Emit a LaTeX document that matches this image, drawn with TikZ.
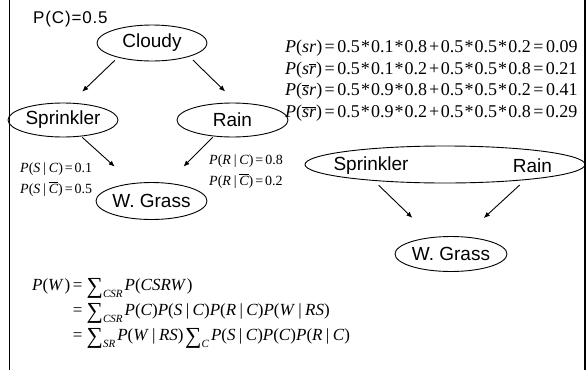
\documentclass[tikz,border=0pt]{standalone}
\usepackage{fontspec}
\setmainfont{Liberation Serif}
\newfontfamily\arialf{Liberation Sans}
\newfontfamily\arialsp[LetterSpace=5]{Liberation Sans}
\usetikzlibrary{shapes.geometric,arrows.meta}
\newcommand\ovl[1]{$\overline{\hbox{\itshape #1}}$}
\newcommand\mi[1]{\textit{#1}}
\newcommand\eqsign{\kern0.14em=\kern0.14em}
\newcommand\pls{\kern0.1em+\kern0.1em}
\newcommand\mul{\kern0.06em*\kern0.06em}
\newcommand\vb{\kern0.2em|\kern0.2em}
\newcommand\sumsub[1]{\kern0.1em\raisebox{-0.2em}{\fontsize{23}{23}\selectfont ∑}\raisebox{-0.45em}{\fontsize{11}{11}\selectfont\itshape #1}\kern0.12em}
\tikzset{
  ell/.style={draw, ellipse, line width=0.9pt, inner sep=0pt, font=\arialf\fontsize{19}{19}\selectfont},
  plain/.style={inner sep=0pt, font=\arialf\fontsize{19}{19}\selectfont},
  conn/.style={-{Latex[length=6pt,width=5pt]}, line width=0.9pt},
  lab/.style={inner sep=0pt, anchor=base west, font=\fontsize{14}{14}\selectfont},
  eq/.style={inner sep=0pt, anchor=base west, font=\fontsize{18}{18}\selectfont},
  peq/.style={inner sep=0pt, anchor=base west, font=\fontsize{17}{17}\selectfont},
  border/.style={line width=1.8pt}
}
\begin{document}
\begin{tikzpicture}[x=1pt,y=-1pt]
\useasboundingbox (0,0) rectangle (587,370);
\draw[border] (9.5,0) -- (9.5,370);
\draw[border, line width=1.5pt] (584.8,0) -- (584.8,370);

\node[inner sep=0pt, anchor=base west, font=\arialsp\fontsize{17}{17}\selectfont] (pc) at (33,23) {P(C)=0.5};

\node[ell, minimum width=110pt, minimum height=36pt] (cloudy) at (152,43) {Cloudy};
\node[ell, minimum width=110pt, minimum height=34pt] (spr) at (63,120) {Sprinkler};
\node[ell, minimum width=111pt, minimum height=34pt] (rain) at (232.5,120) {Rain};
\node[ell, minimum width=111pt, minimum height=37pt] (wg) at (151.5,201) {W. Grass};

\draw[conn, shorten <=4.1pt, shorten >=16pt] (cloudy.203) -- (spr.66);
\draw[conn, shorten <=5pt, shorten >=15.9pt] (cloudy.340) -- (rain.77);
\draw[conn, shorten <=1.4pt, shorten >=24.6pt] (spr.318) -- (wg.136);
\draw[conn, shorten <=1.35pt, shorten >=22.9pt] (rain.221) -- (wg.49);

\node[lab] (lsc) at (20,172) {\mi{P}(\mi{S}\vb\mi{C})\eqsign 0.1};
\node[lab] (lsnc) at (20,193) {\mi{P}(\mi{S}\vb\ovl{C})\eqsign 0.5};
\node[lab] (lrc) at (209,164) {\mi{P}(\mi{R}\vb\mi{C})\eqsign 0.8};
\node[lab] (lrnc) at (209,185) {\mi{P}(\mi{R}\vb\ovl{C})\eqsign 0.2};

\node[eq] (e1) at (285,52) {\mi{P}(\mi{sr})\eqsign 0.5\mul 0.1\mul 0.8\pls 0.5\mul 0.5\mul 0.2\eqsign 0.09};
\node[eq] (e2) at (285,74) {\mi{P}(\mi{s}\ovl{r})\eqsign 0.5\mul 0.1\mul 0.2\pls 0.5\mul 0.5\mul 0.8\eqsign 0.21};
\node[eq] (e3) at (285,95) {\mi{P}(\ovl{s}\mi{r})\eqsign 0.5\mul 0.9\mul 0.8\pls 0.5\mul 0.5\mul 0.2\eqsign 0.41};
\node[eq] (e4) at (285,117) {\mi{P}(\ovl{s}\ovl{r})\eqsign 0.5\mul 0.9\mul 0.2\pls 0.5\mul 0.5\mul 0.8\eqsign 0.29};

\node[ell, minimum width=280pt, minimum height=37pt] (sr) at (445,164.5) {};
\node[plain] (spr2) at (371,166) {Sprinkler};
\node[plain] (rain2) at (532.5,166) {Rain};
\node[ell, minimum width=112pt, minimum height=35pt] (wg2) at (451,254) {W. Grass};
\draw[conn, shorten <=6.3pt, shorten >=27.6pt] (sr.193) -- (wg2.138);
\draw[conn, shorten <=7.3pt, shorten >=27.3pt] (sr.349) -- (wg2.54);

\node[peq] (pw) at (32,290) {\mi{P}(\mi{W}\kern0.05em)};
\node[peq] (l1) at (pw.base east) {\eqsign\sumsub{CSR}\mi{P}(\mi{CSRW}\kern0.05em)};
\node[peq] (l2) at ([yshift=-25pt]l1.base west) {\eqsign\sumsub{CSR}\mi{P}(\mi{C})\mi{P}(\mi{S}\vb\mi{C})\mi{P}(\mi{R}\vb\mi{C})\mi{P}(\mi{W}\vb\mi{RS})};
\node[peq] (l3) at ([yshift=-25pt]l2.base west) {\eqsign\sumsub{SR}\mi{P}(\mi{W}\vb\mi{RS})\sumsub{C}\mi{P}(\mi{S}\vb\mi{C})\mi{P}(\mi{C})\mi{P}(\mi{R}\vb\mi{C})};
\end{tikzpicture}
\end{document}
